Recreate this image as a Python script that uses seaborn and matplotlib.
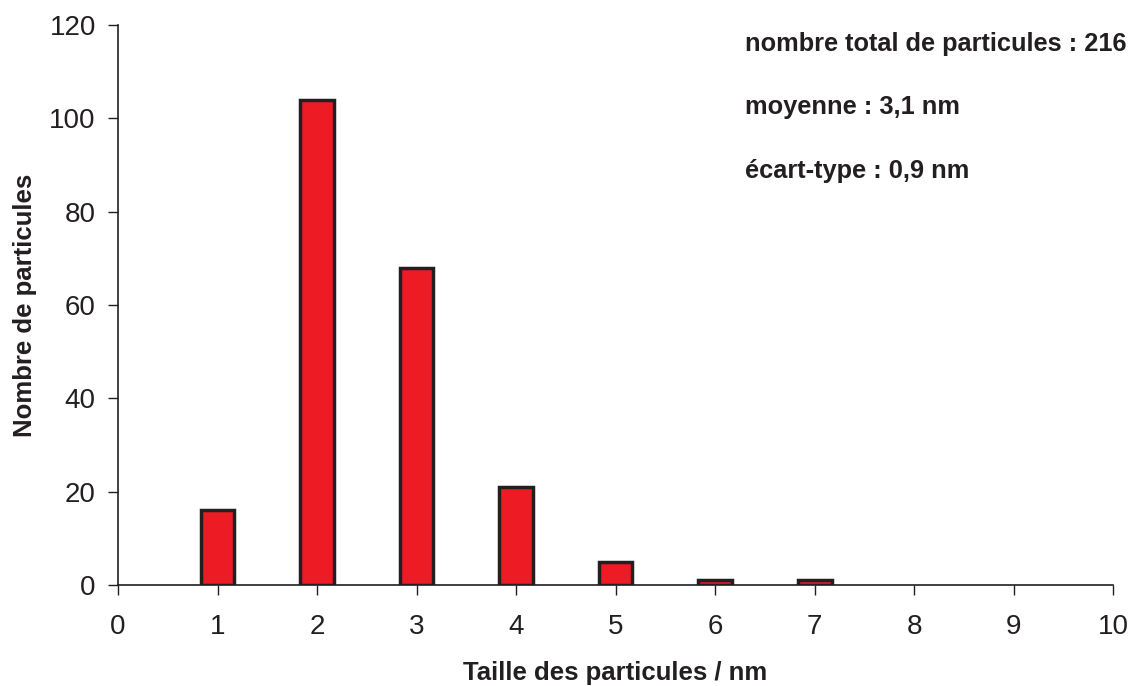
import matplotlib
matplotlib.use("Agg")
import matplotlib.pyplot as plt
import seaborn as sns
import pandas as pd

# data
sizes = [1, 2, 3, 4, 5, 6, 7]
counts = [16, 104, 68, 21, 5, 1, 1]
info_lines = ["nombre total de particules : 216",
              "moyenne : 3,1 nm",
              "écart-type : 0,9 nm"]

df = pd.DataFrame({"taille": sizes, "nombre": counts})

sns.set_style("ticks")
plt.rcParams['font.family'] = ['Liberation Sans', 'DejaVu Sans']
text_col = '#231f20'

fig = plt.figure(figsize=(11.37, 6.86), dpi=100)
ax = fig.add_axes([0.1038, 0.147, 0.8752, 0.8166])

sns.barplot(data=df, x="taille", y="nombre", native_scale=True, width=0.34,
            color='#ed1c24', saturation=1, edgecolor='#231f20', linewidth=2.5, ax=ax)

ax.set_xlim(0, 10)
ax.set_ylim(0, 120)
ax.set_xticks(range(0, 11))
ax.set_yticks(range(0, 121, 20))
ax.tick_params(axis='both', labelsize=20, colors=text_col, width=1, length=7, direction='out')
ax.tick_params(axis='x', pad=14)
ax.tick_params(axis='y', pad=9)
for s in ['top', 'right']:
    ax.spines[s].set_visible(False)
for s in ['left', 'bottom']:
    ax.spines[s].set_color(text_col)
    ax.spines[s].set_linewidth(1.2)

ax.set_xlabel('Taille des particules / nm', fontsize=18.5, fontweight='bold', color=text_col, labelpad=15)
ax.set_ylabel('Nombre de particules', fontsize=18.5, fontweight='bold', color=text_col, labelpad=9)

for yy, line in zip([0.966, 0.853, 0.739], info_lines):
    ax.text(0.630, yy, line, transform=ax.transAxes, fontsize=18.3, fontweight='bold',
            color=text_col, va='center', ha='left')

fig.savefig('out.png', dpi=100)
